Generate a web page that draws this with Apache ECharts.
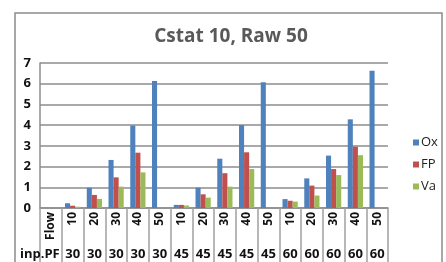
<!DOCTYPE html>
<html>
<head>
<meta charset="utf-8">
<script src="https://cdn.jsdelivr.net/npm/echarts@6/dist/echarts.min.js"></script>
<style>
  html, body { margin: 0; padding: 0; background: #fff; }
  #chart { width: 446px; height: 262px; }
</style>
</head>
<body>
<div id="chart"></div>
<script>
// category labels (two rows under the axis)
var flowLabels = ["Flow", "10", "20", "30", "40", "50", "10", "20", "30", "40", "50", "10", "20", "30", "40", "50"];
var pfLabels = ["inp.PF", "30", "30", "30", "30", "30", "45", "45", "45", "45", "45", "60", "60", "60", "60", "60"];

// series values, first slot is the header column
var oxData = [null, 0.23, 0.98, 2.32, 3.98, 6.13, 0.15, 0.98, 2.38, 4.0, 6.07, 0.43, 1.43, 2.53, 4.28, 6.63];
var fpData = [null, 0.11, 0.63, 1.48, 2.67, 0, 0.15, 0.66, 1.68, 2.69, 0, 0.35, 1.08, 1.88, 2.96, 0];
var vaData = [null, 0.06, 0.44, 1.03, 1.72, 0, 0.12, 0.5, 1.03, 1.88, 0, 0.31, 0.6, 1.59, 2.55, 0];

var yTicks = { min: 0, max: 7, step: 1 };

var font = "Open Sans";
var myChart = echarts.init(document.getElementById("chart"));

var option = {
  animation: false,
  color: ["#4F81BD", "#C0504D", "#9BBB59"],
  title: [
    {
      text: "Cstat 10, Raw 50",
      left: 226,
      textAlign: "center",
      top: 22,
      textStyle: { fontFamily: font, fontSize: 19, fontWeight: "bold", color: "#595959" },
    },
    // empty title used only for the outer chart frame
    {
      text: " ",
      left: 15,
      top: 13,
      padding: [0, 427, 270, 0],
      borderColor: "#8c8c8c",
      borderWidth: 1.5,
      textStyle: { fontSize: 1 },
    },
  ],
  legend: {
    orient: "vertical",
    left: 408,
    top: 131,
    itemWidth: 6,
    itemHeight: 6,
    itemGap: 9,
    icon: "rect",
    textStyle: { fontFamily: font, fontSize: 13, color: "#222", padding: [0, 0, 0, -3] },
    data: ["Ox", "FP", "Va"],
  },
  grid: { left: 40, right: 58, top: 63, bottom: 54, containLabel: false },
  xAxis: [
    {
      type: "category",
      data: flowLabels,
      axisLine: { show: true, lineStyle: { color: "#8c8c8c", width: 1.5 } },
      axisTick: { show: true, interval: 0, alignWithLabel: false, length: 54, lineStyle: { color: "#a0a0a0", width: 1.5 } },
      axisLabel: {
        interval: 0,
        rotate: 90,
        margin: 4,
        fontFamily: font,
        fontSize: 12,
        fontWeight: "bold",
        color: "#111",
      },
    },
    {
      type: "category",
      position: "bottom",
      data: pfLabels.map(function (v, i) {
        return i === 0 ? { value: v, textStyle: { padding: [0, 22, 0, 0] } } : v;
      }),
      axisLine: { show: false },
      axisTick: { show: false },
      axisLabel: {
        interval: 0,
        margin: 40,
        fontFamily: font,
        fontSize: 13,
        fontWeight: "bold",
        color: "#111",
      },
    },
  ],
  yAxis: {
    type: "value",
    min: yTicks.min,
    max: yTicks.max,
    interval: yTicks.step,
    axisLine: { show: true, lineStyle: { color: "#8c8c8c", width: 1.5 } },
    axisTick: { show: false },
    splitLine: { lineStyle: { color: "#8c8c8c", width: 1.5 } },
    axisLabel: { margin: 9, fontFamily: font, fontSize: 13, fontWeight: "bold", color: "#111" },
  },
  series: [
    { name: "Ox", type: "bar", data: oxData, barGap: "0%", barCategoryGap: "30%" },
    { name: "FP", type: "bar", data: fpData, barGap: "0%", barCategoryGap: "30%" },
    { name: "Va", type: "bar", data: vaData, barGap: "0%", barCategoryGap: "30%" },
  ],
};

myChart.setOption(option);
</script>
</body>
</html>
